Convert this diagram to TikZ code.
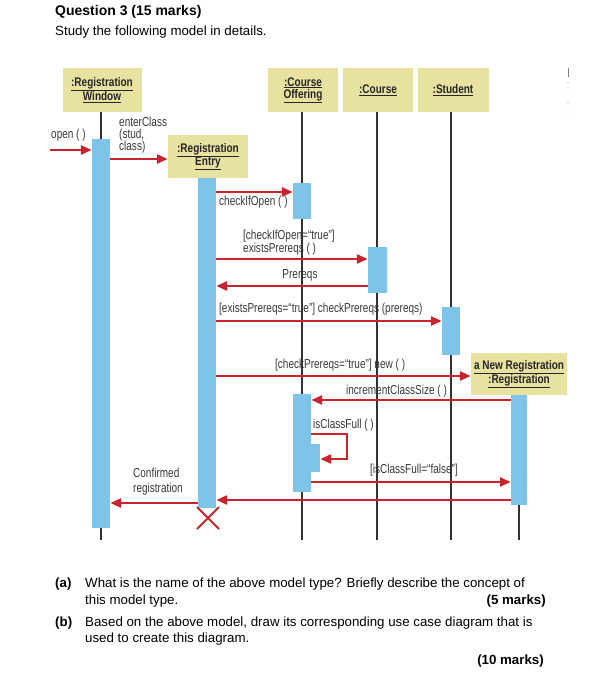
\documentclass[tikz,border=0pt]{standalone}
\usepackage{fontspec}
\setmainfont{Liberation Sans}
\newfontfamily\cnd[FakeStretch=0.77]{Liberation Sans}
\newfontfamily\cndb[FakeStretch=0.8]{Liberation Sans}
\usetikzlibrary{arrows.meta}
\definecolor{khaki}{RGB}{232,226,160}
\definecolor{barblue}{RGB}{126,196,232}
\definecolor{msgred}{RGB}{200,36,46}
\definecolor{lifegray}{RGB}{50,50,50}
\begin{document}
\begin{tikzpicture}[x=1pt,y=-1pt,
  hdr/.style={fill=khaki, inner sep=0pt, align=center, text=black!85, font=\cndb\bfseries\fontsize{12.5}{13}\selectfont},
  bar/.style={fill=barblue, inner sep=0pt, minimum width=18pt, anchor=north},
  life/.style={draw=lifegray, line width=1.8pt},
  msg/.style={draw=msgred, line width=2.6pt, -{Triangle[length=11pt,width=9pt]}},
  lbl/.style={inner sep=0pt, anchor=base west, text=black!78, font=\cnd\fontsize{13}{13}\selectfont},
  qtext/.style={inner sep=0pt, anchor=base west, font=\fontsize{13.3}{15}\selectfont}]
\useasboundingbox (0,0) rectangle (610,700);
\fill[white] (0,0) rectangle (610,700);

% question header
\node[qtext, font=\bfseries\fontsize{14}{16}\selectfont] (q) at (55,16) {Question 3 (15 marks)};
\node[qtext] (q2) at (55,36) {Study the following model in details.};

% object boxes
\node[hdr, minimum width=79pt, minimum height=44pt] (rw) at (102,90) {\underline{:Registration}\\[-1pt]\underline{Window}};
\node[hdr, minimum width=70pt, minimum height=44pt] (co) at (303,90) {\underline{:Course}\\[-1pt]\underline{Offering}};
\node[hdr, minimum width=70pt, minimum height=44pt] (cs) at (378,90) {\underline{:Course}};
\node[hdr, minimum width=71pt, minimum height=44pt] (st) at (453,90) {\underline{:Student}};
\node[hdr, minimum width=80pt, minimum height=43pt] (re) at (208,156.5) {\underline{:Registration}\\[-1pt]\underline{Entry}};
\node[hdr, minimum width=96pt, minimum height=42pt] (nr) at (519,374) {\underline{a New Registration}\\[-1pt]\underline{:Registration}};

% lifelines
\coordinate (e1) at (101,540);
\coordinate (e2) at (207,508);
\coordinate (e3) at (302,540);
\coordinate (e4) at (377,540);
\coordinate (e5) at (451,540);
\coordinate (e6) at (519,540);
\draw[life] (101,112) -- (e1);
\draw[life] (re.south -| e2) -- (e2);
\draw[life] (302,112) -- (e3);
\draw[life] (377,112) -- (e4);
\draw[life] (451,112) -- (e5);
\draw[life] (nr.south -| e6) -- (e6);

% activation bars
\node[bar, minimum height=389pt] (b1) at (101,139) {};
\node[bar, minimum height=330pt] (b2) at (207,178) {};
\node[bar, minimum height=36pt] (b3) at (302,183) {};
\node[bar, minimum height=46pt, minimum width=19pt] (b4) at (377.5,247) {};
\node[bar, minimum height=48pt] (b5) at (451,307) {};
\node[bar, minimum height=98pt] (b6) at (302,394) {};
\node[bar, minimum height=28pt] (b7) at (311,444) {};
\node[bar, minimum height=110pt, minimum width=16pt] (b8) at (519,395) {};

% messages
\coordinate (start) at (50,150);
\draw[msg] (start) -- (b1.west |- start);
\draw[msg] (b1.east |- 0,159) -- (re.west |- 0,159);
\draw[msg] (b2.east |- 0,192) -- (b3.west |- 0,192);
\draw[msg] (b2.east |- 0,259) -- (b4.west |- 0,259);
\draw[msg] (b4.west |- 0,286) -- (b2.east |- 0,286);
\draw[msg] (b2.east |- 0,321) -- (b5.west |- 0,321);
\draw[msg] (b2.east |- 0,376) -- (nr.west |- 0,376);
\draw[msg] (b8.west |- 0,400) -- (b6.east |- 0,400);
\draw[msg] (b6.east |- 0,434) -- (347,434) -- (347,459) -- (b7.east |- 0,459);
\draw[msg] (b6.east |- 0,482) -- (b8.west |- 0,482);
\draw[msg] (b8.west |- 0,500) -- (b2.east |- 0,500);
\draw[msg] (b2.west |- 0,503) -- (b1.east |- 0,503);

% destruction
\draw[draw=msgred, line width=2pt] (197,507) -- (219,529) (219,507) -- (197,529);

% labels
\node[lbl] (l1) at (51,139) {open ( )};
\node[lbl] (l2a) at (119,127) {enterClass};
\node[lbl] (l2b) at (119,139) {(stud,};
\node[lbl] (l2c) at (119,151) {class)};
\node[lbl] (l3) at (219,206) {checkIfOpen ( )};
\node[lbl] (l4a) at (243,240) {[checkIfOpen=“true”]};
\node[lbl] (l4b) at (243,252) {existsPrereqs ( )};
\node[lbl, anchor=base] (l5) at (300,278) {Prereqs};
\node[lbl] (l6) at (219,312) {[existsPrereqs=“true”] checkPrereqs (prereqs)};
\node[lbl] (l7) at (275,368) {[checkPrereqs=“true”] new ( )};
\node[lbl] (l8) at (346,394) {incrementClassSize ( )};
\node[lbl] (l9) at (313,428) {isClassFull ( )};
\node[lbl] (l10) at (370,473) {[isClassFull=“false”]};
\node[lbl] (l11a) at (133,477) {Confirmed};
\node[lbl] (l11b) at (133,492) {registration};

% small marks at right edge
\draw[gray, line width=1pt] (568,68) -- (568,77);
\fill[gray!70] (568,83) circle (0.6) (568,88) circle (0.6) (568,103) circle (0.6) (568,112) circle (0.6);

% questions
\node[qtext, font=\bfseries\fontsize{13.3}{15}\selectfont] (qa) at (55,587) {(a)};
\node[qtext] (qa1) at (85,587) {What is the name of the above model type? Briefly describe the concept of};
\node[qtext] (qa2) at (85,604) {this model type.};
\node[qtext, anchor=base east, font=\bfseries\fontsize{13.3}{15}\selectfont] (qa3) at (546,604) {(5 marks)};
\node[qtext, font=\bfseries\fontsize{13.3}{15}\selectfont] (qb) at (55,626) {(b)};
\node[qtext] (qb1) at (85,626) {Based on the above model, draw its corresponding use case diagram that is};
\node[qtext] (qb2) at (85,642) {used to create this diagram.};
\node[qtext, anchor=base east, font=\bfseries\fontsize{13.3}{15}\selectfont] (qb3) at (544,664) {(10 marks)};
\end{tikzpicture}
\end{document}
